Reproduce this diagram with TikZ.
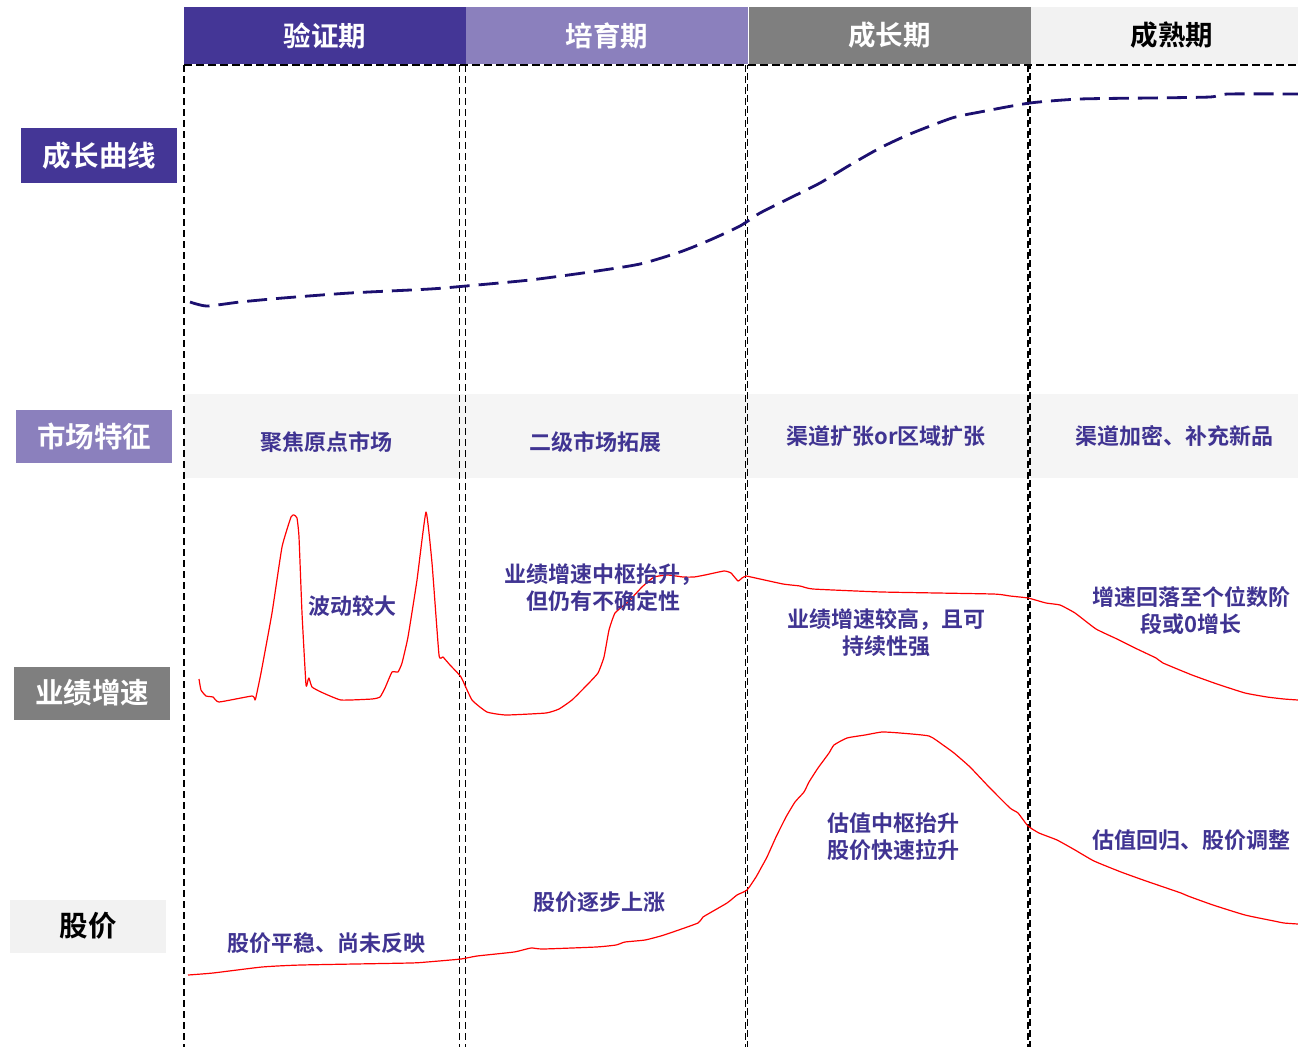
\documentclass[tikz,border=0pt]{standalone}
\usepackage{fontspec}
\newfontfamily\cjk{Noto Sans CJK SC Bold}
\definecolor{dpur}{RGB}{68,54,150}
\definecolor{lpur}{RGB}{139,128,189}
\definecolor{mgray}{RGB}{127,127,127}
\definecolor{lgray}{RGB}{242,242,242}
\definecolor{bandc}{RGB}{245,245,245}
\definecolor{txtc}{RGB}{64,52,146}
\definecolor{navy}{RGB}{28,16,112}
\begin{document}
\begin{tikzpicture}[x=1pt,y=-1pt,
  hdr/.style={minimum width=282pt, minimum height=57pt, inner sep=0pt, font=\cjk\fontsize{27.5}{30}\selectfont, text=white},
  lbl/.style={minimum width=156pt, minimum height=53pt, inner sep=0pt, font=\cjk\fontsize{28.5}{30}\selectfont, text=white},
  note/.style={font=\cjk\fontsize{22}{27}\selectfont, text=txtc, align=center, inner sep=0pt},
  vline/.style={black, line width=1.6pt, dash pattern=on 7pt off 4pt},
  hline/.style={black, line width=1.5pt, dash pattern=on 8pt off 4pt},
  growth/.style={navy, line width=2.8pt, dash pattern=on 20pt off 9pt},
  redc/.style={red, line width=1.2pt, line join=round}
]
\useasboundingbox (0,0) rectangle (1298,1047);
\fill[white] (0,0) rectangle (1298,1047);

% header
\node[hdr, fill=dpur] (h1) at (325,35.5) {验证期};
\node[hdr, fill=lpur] (h2) at (607,35.5) {培育期};
\node[hdr, fill=mgray] (h3) at (889.5,35.5) {成长期};
\node[hdr, fill=lgray, text=black, minimum width=267pt] (h4) at (1164.5,35.5) {};
\node[font=\cjk\fontsize{27.5}{30}\selectfont, inner sep=0pt] (h4t) at (1172,35.5) {成熟期};

% market band
\node[fill=bandc, minimum width=1114pt, minimum height=84pt, anchor=north west, inner sep=0pt] (band) at (184,394) {};

% left labels
\node[lbl, fill=dpur, minimum height=55pt] (l1) at (99,155.5) {成长曲线};
\node[lbl, fill=lpur] (l2) at (94,436.5) {市场特征};
\node[lbl, fill=mgray] (l3) at (92,693) {业绩增速};
\node[lbl, fill=lgray, text=black] (l4) at (88,926) {股价};

% dashed grid
\draw[hline] (184,65) -- (1298,65);
\draw[vline] (184,65) -- (184,1047);
\draw[vline] (459.5,65) -- (459.5,1047);
\draw[vline] (465.5,65) -- (465.5,1047);
\draw[vline] (745.5,65) -- (745.5,1047);
\draw[vline, dash phase=3pt] (747.5,65) -- (747.5,1047);
\draw[vline] (1028,65) -- (1028,1047);
\draw[vline, dash phase=3pt] (1030,65) -- (1030,1047);

% growth curve
\draw[growth] plot[smooth, tension=0.4] coordinates {(190,302) (207,306) (240,302) (283,298) (350,293) (430,289) (466,286) (530,280) (590,272) (640,264) (680,252) (710,240) (740,226) (760,213) (790,198) (820,183) (850,165) (880,148) (910,134) (952,118) (980,112) (1030,103) (1080,99) (1150,98) (1210,97) (1228,94) (1298,94)};

% market texts
\node[note] (m1) at (326,442) {聚焦原点市场};
\node[note] (m2) at (595,442) {二级市场拓展};
\node[note] (m3) at (886,436) {渠道扩张or区域扩张};
\node[note] (m4) at (1174,436) {渠道加密、补充新品};

% performance curve
\draw[redc] plot[smooth, tension=0.25] coordinates {(199,679) (201,690) (206,696) (213,697) (219,702) (252,696) (255,700) (256,697) (261,673) (272,613) (282,547) (291,517) (294,515) (297,518) (299,537) (302,613) (306,685) (308,680) (309,678) (312,687) (321,692) (341,700) (372,699) (380,697) (385,688) (392,672) (398,672) (402,663) (408,637) (417,580) (426,512) (432,563) (439,655) (443,657) (450,665) (461,677) (472,700) (487,712) (506,715) (546,713) (559,709) (572,700) (587,685) (598,673) (604,657) (609,630) (615,613) (628,602) (642,587) (654,577) (668,575) (683,577) (694,577) (705,575) (724,571) (731,573) (738,581) (742,578) (746,576) (751,577) (783,584) (800,586) (813,589) (882,592) (993,594) (1010,596) (1028,598) (1046,603) (1060,605) (1075,613) (1096,629) (1117,639) (1135,648) (1156,658) (1163,663) (1192,675) (1217,684) (1245,693) (1267,697) (1284,699) (1298,700)};

% stock price curve
\draw[redc] plot[smooth, tension=0.3] coordinates {(188,975) (213,973) (262,967) (301,965) (410,963) (427,962) (461,959) (477,956) (514,952) (531,948) (543,949) (596,947) (616,945) (625,942) (645,940) (664,935) (698,923) (703,917) (727,903) (737,895) (747,890) (756,877) (761,868) (767,857) (776,837) (786,817) (795,802) (804,792) (809,782) (818,768) (829,753) (834,745) (847,738) (865,735) (882,732) (900,733) (929,736) (943,745) (954,753) (970,767) (989,787) (1010,808) (1018,813) (1028,826) (1039,833) (1057,840) (1075,850) (1094,861) (1121,872) (1146,881) (1181,893) (1188,896) (1213,905) (1245,915) (1274,921) (1284,923) (1298,924)};

% performance texts
\node[note] (p1) at (352,606) {波动较大};
\node[note] (p2) at (603,587.5) {业绩增速中枢抬升，\\但仍有不确定性};
\node[note] (p3) at (886,632.5) {业绩增速较高，且可\\持续性强};
\node[note] (p4) at (1191,611) {增速回落至个位数阶\\段或0增长};

% stock texts
\node[note] (s1) at (326,943) {股价平稳、尚未反映};
\node[note] (s2) at (599,902) {股价逐步上涨};
\node[note] (s3) at (893,836.5) {估值中枢抬升\\股价快速拉升};
\node[note] (s4) at (1191,840) {估值回归、股价调整};
\end{tikzpicture}
\end{document}
